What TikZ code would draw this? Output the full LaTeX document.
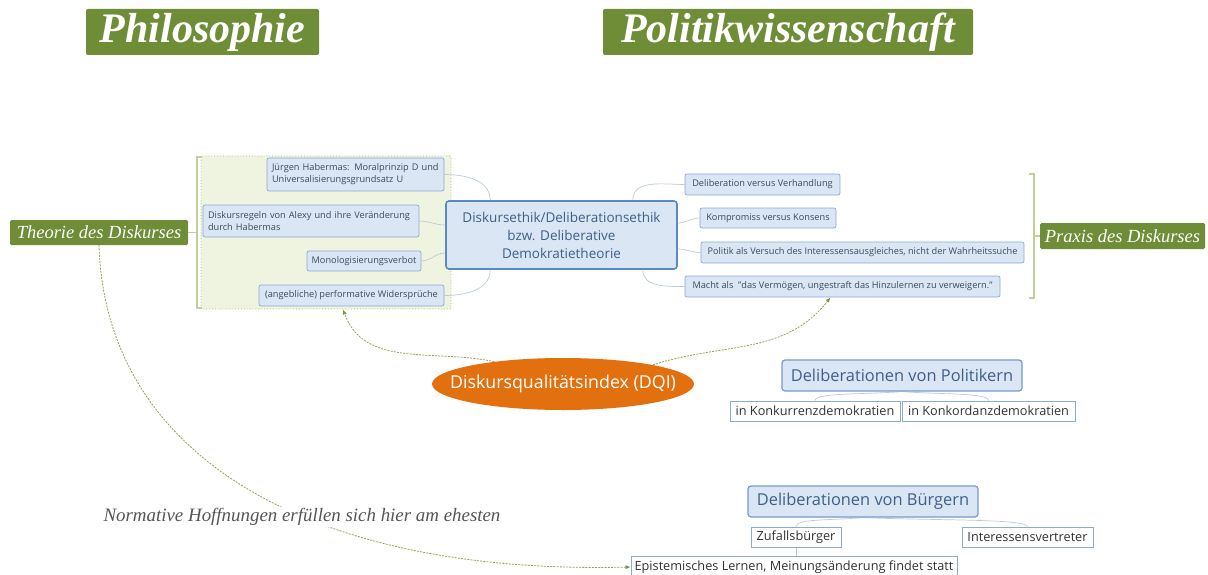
\documentclass[tikz,border=0pt]{standalone}
\usepackage{fontspec}
\setmainfont{Liberation Serif}
\setsansfont{Open Sans}
\usetikzlibrary{arrows.meta,shapes.geometric,backgrounds}
\definecolor{hdgreen}{HTML}{6E8D36}
\definecolor{leaffill}{HTML}{DAE6F3}
\definecolor{leafline}{HTML}{8CAAD2}
\definecolor{leaftext}{HTML}{3B4B5E}
\definecolor{centline}{HTML}{5B89C5}
\definecolor{centtext}{HTML}{3F5F8A}
\definecolor{grpfill}{HTML}{EFF4E0}
\definecolor{grpline}{HTML}{A6BD72}
\definecolor{brackc}{HTML}{BFD19A}
\definecolor{connc}{HTML}{BACAD9}
\definecolor{dqic}{HTML}{E2700F}
\definecolor{dashc}{HTML}{9A9C4E}
\definecolor{tipc}{HTML}{6E9A36}
\definecolor{normc}{HTML}{555555}
\begin{document}
\begin{tikzpicture}[x=1pt,y=-1pt,
  head/.style={fill=hdgreen, text=white, rounded corners=2pt, inner sep=0pt,
    font=\bfseries\itshape\fontsize{42}{46}\selectfont},
  tagbox/.style={fill=hdgreen, text=white, rounded corners=1.5pt, inner sep=0pt,
    font=\itshape\fontsize{18.5}{22}\selectfont},
  leaf/.style={draw=leafline, fill=leaffill, rounded corners=2pt, text=leaftext,
    inner sep=0pt, align=left, line width=0.7pt,
    font=\sffamily\fontsize{9.2}{12}\selectfont},
  central/.style={draw=centline, fill=leaffill, rounded corners=3pt, text=centtext,
    inner sep=0pt, align=center, line width=1.6pt,
    font=\sffamily\fontsize{13.5}{18}\selectfont},
  topic/.style={draw=centline!85, fill=leaffill, rounded corners=3pt, text=centtext,
    inner sep=0pt, line width=1.2pt,
    font=\sffamily\fontsize{16.4}{19}\selectfont},
  sub/.style={draw=leafline, fill=white, text=black!80, inner sep=0pt,
    line width=0.7pt, font=\sffamily\fontsize{12.7}{15}\selectfont},
  conn/.style={draw=connc, line width=0.7pt},
  brack/.style={draw=brackc, line width=1.1pt},
  dasharrow/.style={draw=dashc, line width=0.8pt, dash pattern=on 2pt off 1.2pt,
    -{Latex[length=5pt,width=4pt,color=tipc]}},
]
\useasboundingbox (0,0) rectangle (1208,575);

% headings
\node[head, minimum width=233, minimum height=46] (phil) at (202.5,32) {Philosophie};
\node[head, minimum width=370, minimum height=46] (polw) at (788,32) {Politikwissenschaft};

% left group
\node[draw=grpline, fill=grpfill, dotted, line width=0.9pt, rounded corners=1pt,
  minimum width=250, minimum height=153, inner sep=0pt] (grp) at (326,232.5) {};
\draw[brack] (202,157) -- (197,157) -- (197,308) -- (202,308);
\node[tagbox, minimum width=178, minimum height=25] (theo) at (99,232.5) {Theorie des Diskurses};
\coordinate (lbr) at (197,232.5);
\draw[brack] (theo.east) -- (lbr);

% central
\node[central, minimum width=231, minimum height=68] (cent) at (561.5,235)
  {Diskursethik/Deliberationsethik\\bzw. Deliberative\\Demokratietheorie};

% left leaves
\node[leaf, minimum width=177, minimum height=33, text width=167] (hab) at (355.5,174.5)
  {Jürgen Habermas: Moralprinzip D und\\Universalisierungsgrundsatz U};
\node[leaf, minimum width=216, minimum height=32, text width=206] (disk) at (311,221)
  {Diskursregeln von Alexy und ihre Veränderung\\durch Habermas};
\node[leaf, minimum width=114, minimum height=20] (mono) at (364,261) {Monologisierungsverbot};
\node[leaf, minimum width=185, minimum height=21] (wid) at (351.5,295.5) {(angebliche) performative Widersprüche};

% right leaves
\node[leaf, minimum width=155, minimum height=21] (delib) at (762.5,184.5) {Deliberation versus Verhandlung};
\node[leaf, minimum width=136, minimum height=20] (komp) at (768,218) {Kompromiss versus Konsens};
\node[leaf, minimum width=323, minimum height=21] (pol) at (862.5,252.5) {Politik als Versuch des Interessensausgleiches, nicht der Wahrheitssuche};
\node[leaf, minimum width=315, minimum height=21] (macht) at (842.5,286.5) {Macht als~ "das Vermögen, ungestraft das Hinzulernen zu verweigern."};

% connectors from central
\draw[conn] (hab.east) to[out=0,in=90] ([xshift=45pt]cent.north west);
\draw[conn] (disk.east) to[out=0,in=180] ([yshift=10pt]cent.west);
\draw[conn] (mono.east) to[out=0,in=180] ([yshift=-18pt]cent.west);
\draw[conn] (wid.east) to[out=0,in=-90] ([xshift=45pt]cent.south west);
\draw[conn] (delib.west) to[out=180,in=90] ([xshift=-45pt]cent.north east);
\draw[conn] (komp.west) to[out=180,in=0] ([yshift=12pt]cent.east);
\draw[conn] (pol.west) to[out=180,in=0] ([yshift=-14pt]cent.east);
\draw[conn] (macht.west) to[out=180,in=-90] ([xshift=-35pt]cent.south east);

% right bracket
\draw[brack] (1029,174) -- (1034,174) -- (1034,298) -- (1029,298);
\node[tagbox, minimum width=165, minimum height=26] (prax) at (1122.5,236) {Praxis des Diskurses};
\coordinate (rbr) at (1034,236);
\draw[brack] (rbr) -- (prax.west);

% DQI
\node[ellipse, fill=dqic, text=white, minimum width=262, minimum height=52,
  inner xsep=-22pt, inner ysep=0pt,
  font=\sffamily\fontsize{17.8}{20}\selectfont] (dqi) at (563,384) {Diskursqualitätsindex (DQI)};
\draw[dasharrow] (dqi.162) to[out=168,in=-70] ([xshift=17pt]grp.south);
\draw[dasharrow] (dqi.12) to[out=18,in=-128] ([xshift=-12pt]macht.south);

% Politiker
\node[topic, minimum width=240, minimum height=31] (polk) at (902,375.5) {Deliberationen von Politikern};
\node[sub, minimum width=170, minimum height=20] (konk) at (815,411) {in Konkurrenzdemokratien};
\node[sub, minimum width=173, minimum height=20] (kord) at (988.5,411) {in Konkordanzdemokratien};

% Buerger
\node[topic, minimum width=230, minimum height=31] (buerg) at (863,501.5) {Deliberationen von Bürgern};
\node[sub, minimum width=90, minimum height=20] (zuf) at (796,537) {Zufallsbürger};
\node[sub, minimum width=131, minimum height=20] (ivt) at (1027.5,537) {Interessensvertreter};
\node[sub, minimum width=326, minimum height=21] (epi) at (794,567) {Epistemisches Lernen, Meinungsänderung findet statt};

\begin{scope}[on background layer]
\draw[conn] (polk.south) .. controls +(-40,3) and +(0,-8) .. (konk.north);
\draw[conn] (polk.south) .. controls +(40,3) and +(0,-8) .. (kord.north);
\draw[conn] (buerg.south) .. controls +(-35,3) and +(0,-8) .. (zuf.north);
\draw[conn] (buerg.south) .. controls +(70,3) and +(0,-8) .. (ivt.north);
\draw[conn] (zuf.south) -- (epi.north -| zuf.south);
\end{scope}

% long dashed arrow
\draw[dasharrow] (theo.south) .. controls (105,450) and (300,575) .. (epi.west);
\node[fill=white, text=normc, inner sep=1pt, font=\itshape\fontsize{18.9}{22}\selectfont] (norm) at (302,517)
  {Normative Hoffnungen erfüllen sich hier am ehesten};
\end{tikzpicture}
\end{document}
